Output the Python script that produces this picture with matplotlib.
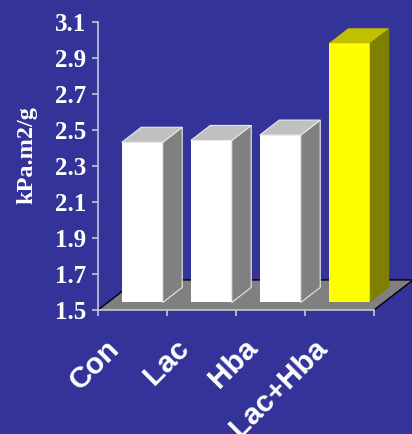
import matplotlib
matplotlib.use("Agg")
import matplotlib.pyplot as plt
from matplotlib.patches import Polygon
from matplotlib.transforms import offset_copy

# Data
categories = ["Con", "Lac", "Hba", "Lac+Hba"]
values = [2.39, 2.40, 2.43, 2.94]
y_ticks = [1.5, 1.7, 1.9, 2.1, 2.3, 2.5, 2.7, 2.9, 3.1]
y_label = "kPa.m2/g"

# Face colours (front, side, top)
white_faces = ("#ffffff", "#808080", "#c0c0c0")
yellow_faces = ("#ffff00", "#808000", "#c0c000")
bar_faces = [white_faces, white_faces, white_faces, yellow_faces]

bg = "#333399"
axis_col = "#c8c8d8"

fig = plt.figure(figsize=(4.12, 4.34), dpi=100, facecolor=bg)
ax = fig.add_axes([98 / 412, 1 - 310 / 434, 276 / 412, 288 / 434])
ax.set_facecolor("none")
ymin, ymax = 1.5, 3.1
ax.set_xlim(0, len(categories))
ax.set_ylim(ymin, ymax)

# 3-D projection offsets for the full floor depth (data units)
ddx, ddy = 0.565, 0.167
bar_w = 0.594
d0, d1 = 0.25, 0.75  # bar depth range as fraction of floor depth

# Floor
floor = Polygon([(0, ymin), (len(categories), ymin),
                 (len(categories) + ddx, ymin + ddy), (ddx, ymin + ddy)],
                closed=True, facecolor="#808080", edgecolor="none",
                clip_on=False, zorder=1)
ax.add_patch(floor)
ax.plot([0, ddx, len(categories) + ddx, len(categories)],
        [ymin, ymin + ddy, ymin + ddy, ymin],
        color="black", lw=1.0, clip_on=False, zorder=1.5)

# Bars
for i, (v, faces) in enumerate(zip(values, bar_faces)):
    front, side, top = faces
    x0 = i + (1 - bar_w) / 2 + d0 * ddx
    x1 = x0 + bar_w
    yb = ymin + d0 * ddy
    yt = yb + (v - ymin)
    sx = (d1 - d0) * ddx
    sy = (d1 - d0) * ddy
    edge = "#e8e8e8" if front == "#ffffff" else "none"
    ax.add_patch(Polygon([(x0, yb), (x1, yb), (x1, yt), (x0, yt)],
                         facecolor=front, edgecolor="none",
                         clip_on=False, zorder=2 + i))
    ax.add_patch(Polygon([(x1, yb), (x1 + sx, yb + sy), (x1 + sx, yt + sy), (x1, yt)],
                         facecolor=side, edgecolor=edge, lw=0.8,
                         clip_on=False, zorder=2 + i))
    ax.add_patch(Polygon([(x0, yt), (x1, yt), (x1 + sx, yt + sy), (x0 + sx, yt + sy)],
                         facecolor=top, edgecolor=edge, lw=0.8,
                         clip_on=False, zorder=2 + i))

# Axes styling
for s in ("top", "right"):
    ax.spines[s].set_visible(False)
for s in ("left", "bottom"):
    ax.spines[s].set_color(axis_col)
    ax.spines[s].set_linewidth(1.2)
    ax.spines[s].set_zorder(10)

ax.set_yticks(y_ticks)
ax.set_yticklabels([f"{t:.1f}" for t in y_ticks])
ax.tick_params(axis="y", direction="out", length=4.5, width=1.2, color=axis_col,
               labelcolor="white", labelsize=18, pad=4)
for lab in ax.get_yticklabels():
    lab.set_family("Liberation Serif")
    lab.set_fontweight("bold")

ax.set_xticks(range(len(categories) + 1))
ax.set_xticklabels([])
ax.tick_params(axis="x", direction="out", length=4, width=1.2, color=axis_col)

# Category labels
lab_tr = offset_copy(ax.get_xaxis_transform(), fig=fig, x=0, y=-24, units="dots")
for i, name in enumerate(categories):
    ax.text(i + 0.11, 0, name, transform=lab_tr, rotation=45,
            rotation_mode="anchor", ha="right", va="top",
            color="white", fontsize=21.5, fontweight="bold",
            family="Liberation Sans")

fig.text(27 / 412, 1 - 155 / 434, y_label, rotation=90, ha="center", va="center",
         color="white", fontsize=17.5, fontweight="bold", family="Liberation Serif")

fig.savefig("out.png", dpi=100, facecolor=bg)
